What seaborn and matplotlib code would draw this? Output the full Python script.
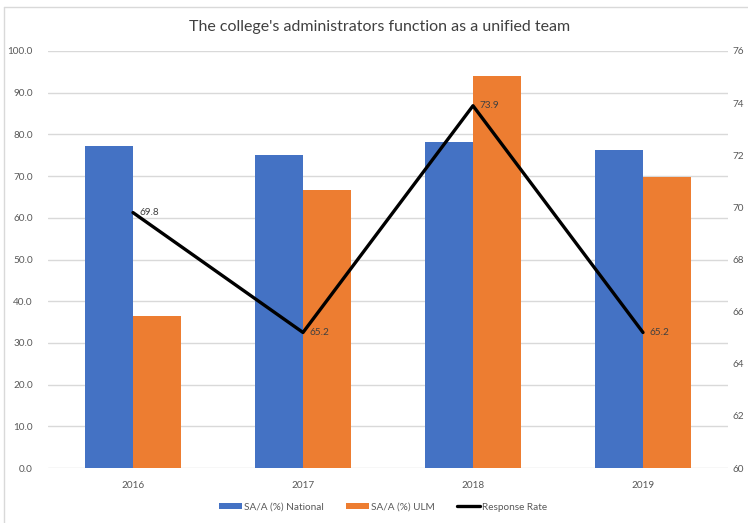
import numpy as np
import pandas as pd
import matplotlib
matplotlib.use("Agg")
import matplotlib.pyplot as plt
import seaborn as sns
from matplotlib.patches import Patch
from matplotlib.lines import Line2D

years = ["2016", "2017", "2018", "2019"]
national = [77.2, 75.0, 78.2, 76.3]
ulm = [36.5, 66.7, 93.9, 69.9]
response = [69.8, 65.2, 73.9, 65.2]
series_names = ["SA/A (%) National", "SA/A (%) ULM", "Response Rate"]
title = "The college's administrators function as a unified team"

sns.set_theme(style="white")
plt.rcParams["font.family"] = ["Lato", "DejaVu Sans"]

df = pd.DataFrame({
    "Year": years * 2,
    "Value": national + ulm,
    "Series": [series_names[0]] * len(years) + [series_names[1]] * len(years),
})

W, H, DPI = 748, 523, 100
fig = plt.figure(figsize=(W / DPI, H / DPI), dpi=DPI)
ax = fig.add_axes([48 / W, 1 - 468 / H, (728 - 48) / W, (468 - 51) / H])

colors = ["#4472C4", "#ED7D31"]
sns.barplot(data=df, x="Year", y="Value", hue="Series", order=years,
            palette=colors, width=0.565, gap=0, ax=ax, saturation=1,
            legend=False, edgecolor="none", linewidth=0)

ax.set_xlim(-0.5, len(years) - 0.5)
ax.set_ylim(0, 100)
ax.set_yticks(np.arange(0, 101, 10))
ax.set_yticklabels([f"{v:.1f}" for v in np.arange(0, 101, 10)])
ax.yaxis.grid(True, color="#d9d9d9", linewidth=1)
ax.set_axisbelow(True)
for s in ax.spines.values():
    s.set_visible(False)
ax.set_xlabel("")
ax.set_ylabel("")
ax.tick_params(axis="y", length=0, pad=11, labelsize=7.2, labelcolor="#595959")
ax.tick_params(axis="x", length=0, pad=9, labelsize=7.2, labelcolor="#595959")

ax2 = ax.twinx()
xpos = np.arange(len(years))
sns.lineplot(x=xpos, y=response, color="black", linewidth=2.4, ax=ax2,
             legend=False)
ax2.set_ylim(60, 76)
ax2.set_yticks(np.arange(60, 77, 2))
ax2.set_yticklabels([str(v) for v in np.arange(60, 77, 2)])
for s in ax2.spines.values():
    s.set_visible(False)
ax2.set_ylabel("")
ax2.tick_params(axis="y", length=0, pad=3, labelsize=7.2, labelcolor="#595959")
ax2.set_xlim(-0.5, len(years) - 0.5)
for x, v in zip(xpos, response):
    ax2.annotate(f"{v:.1f}", (x, v), xytext=(5, 0), textcoords="offset points",
                 ha="left", va="center", fontsize=7.2, color="#404040")

fig.text(380 / W, 1 - 27 / H, title, ha="center", va="center",
         fontsize=11.5, color="#404040")

handles = [Patch(facecolor=colors[0], edgecolor="none"),
           Patch(facecolor=colors[1], edgecolor="none"),
           Line2D([0], [0], color="black", linewidth=2.4)]
fig.legend(handles, series_names, loc="center", bbox_to_anchor=(383 / W, 1 - 507 / H),
           ncol=3, frameon=False, fontsize=7.2, handlelength=2.3, handleheight=0.5,
           handletextpad=0.2, columnspacing=2.2, labelcolor="#595959")

# chart border
fig.add_artist(Line2D([4 / W, 4 / W], [0, 1 - 7 / H], transform=fig.transFigure,
                      color="#d9d9d9", linewidth=1))
fig.add_artist(Line2D([4 / W, 1], [1 - 7 / H, 1 - 7 / H], transform=fig.transFigure,
                      color="#d9d9d9", linewidth=1))

fig.savefig("out.png", dpi=DPI)
